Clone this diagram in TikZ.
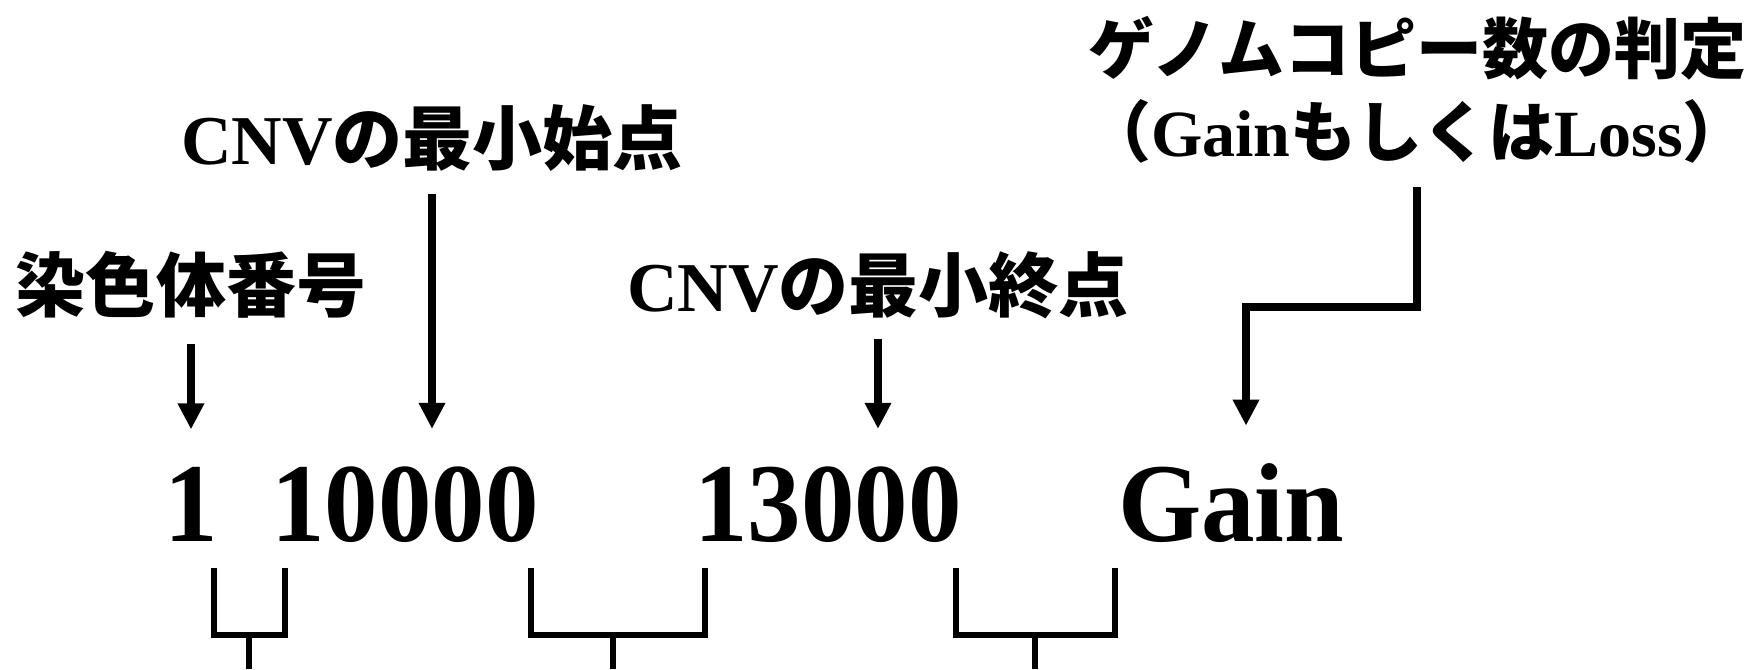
\documentclass[tikz,border=0pt]{standalone}
\usepackage{fontspec}
\setmainfont{Liberation Serif}
\newfontfamily\jp{Noto Sans CJK JP}
\usetikzlibrary{arrows.meta}
\newcommand{\tallnum}[1]{\scalebox{1}[1.05]{#1}}
\tikzset{
  lab/.style={inner sep=0pt, font=\jp\bfseries\fontsize{35}{40}\selectfont},
  lab2/.style={inner sep=0pt, align=center, font=\jp\bfseries\fontsize{33}{41.5}\selectfont},
  num/.style={inner sep=0pt, anchor=base, font=\bfseries\fontsize{53.5}{60}\selectfont},
  arr/.style={line width=3.6pt, -{Triangle[width=12.5pt,length=13pt]}},
  brk/.style={line width=3pt},
}
\begin{document}
\begin{tikzpicture}[x=0.5pt,y=-0.5pt]
\useasboundingbox (0,0) rectangle (1749,669);
% labels
\node[lab] (chr) at (191,285) {染色体番号};
\node[lab] (st) at (432,138) {{\rmfamily CNV}の最小始点};
\node[lab] (en) at (878,285) {{\rmfamily CNV}の最小終点};
\node[lab2] (cnj) at (1417,90) {ゲノムコピー数の判定\\（{\rmfamily Gain}もしくは{\rmfamily Loss}）};
% values
\node[num] (n1) at (191.5,541) {\tallnum{1}};
\node[num] (n2) at (405,541) {\tallnum{10000}};
\node[num] (n3) at (828,541) {\tallnum{13000}};
\node[num] (g) at (1231,541) {\tallnum{Gain}};
% arrows
\draw[arr, shorten <=12.5pt, shorten >=18.5pt] (chr.south) -- (chr.south |- n1.north);
\draw[arr, shorten <=11pt, shorten >=18.5pt] (st.south) -- (st.south |- n2.north);
\draw[arr, shorten <=10pt, shorten >=18.5pt] (en.south) -- (en.south |- n3.north);
\coordinate (knee) at (1246,307);
\draw[arr, shorten <=11.5pt, shorten >=18.5pt] (cnj.south) |- (knee) -- (knee |- g.north);
% separators
\draw[brk] (213.5,568) -- (213.5,635) -- (285,635) -- (285,568);
\draw[brk] (249,635) -- (249,669);
\draw[brk] (531,568) -- (531,635) -- (705,635) -- (705,568);
\draw[brk] (613,635) -- (613,669);
\draw[brk] (956,568) -- (956,635) -- (1115,635) -- (1115,568);
\draw[brk] (1035,635) -- (1035,669);
\end{tikzpicture}
\end{document}
